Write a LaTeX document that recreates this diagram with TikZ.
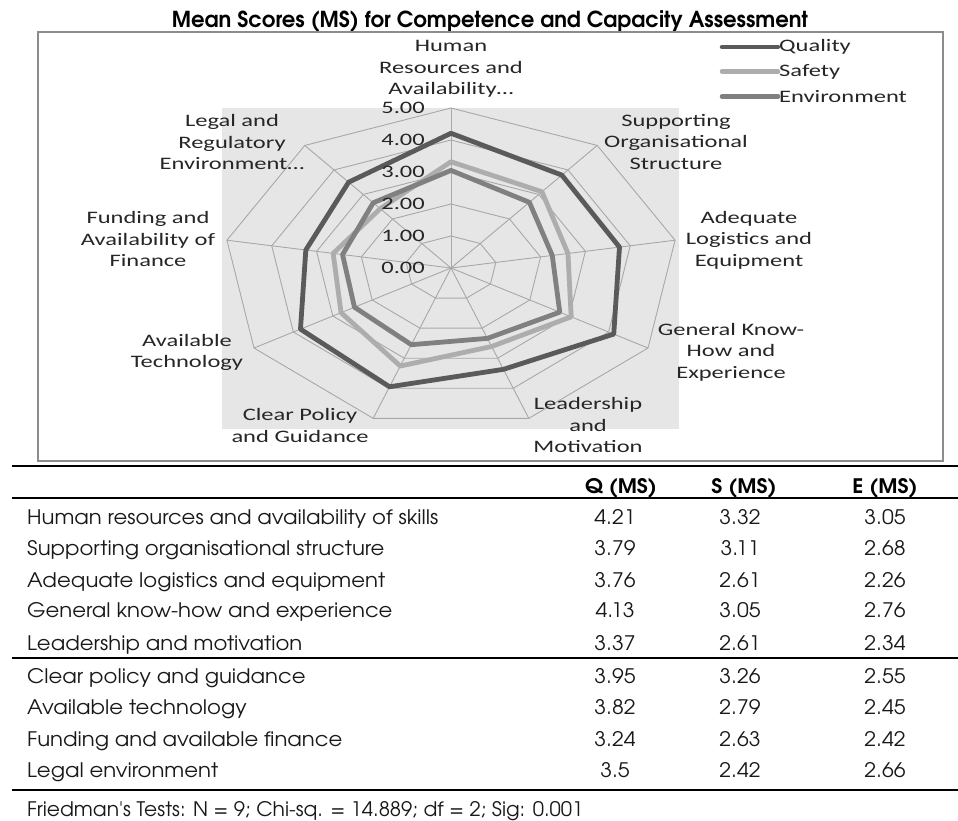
\documentclass[tikz,border=0pt]{standalone}
\usepackage{fontspec}
\usepackage{graphicx}
\newfontfamily\chartfont[FakeStretch=1.4]{Carlito}
\newfontfamily\gothic{texgyreadventor}[Extension=.otf,UprightFont=*-regular,BoldFont=*-bold]
\newfontfamily\tabfont{texgyreadventor}[Extension=.otf,UprightFont=*-regular,BoldFont=*-bold,FakeStretch=1.06]
\definecolor{qcol}{HTML}{5A5A5A}
\definecolor{scol}{HTML}{ADADAD}
\definecolor{ecol}{HTML}{808080}
\definecolor{gridcol}{HTML}{A8A8A8}
\definecolor{plotbg}{HTML}{E6E6E6}
\definecolor{boxcol}{HTML}{8C8C8C}
\newcommand\fitw[2]{\resizebox{#1}{\height}{#2}}
\newcommand\rp[2]{({451+45.5*(#2)*cos(90-40*(#1))},{268-32*(#2)*sin(90-40*(#1))})}
\tikzset{
  lab/.style={font=\chartfont\fontsize{17.5}{21.5}\selectfont, align=center, inner sep=0pt, text=black!85},
  vallab/.style={font=\chartfont\fontsize{17.5}{21.5}\selectfont, inner sep=0pt, anchor=east, text=black!85},
  gridline/.style={draw=gridcol, line width=0.9pt},
  series/.style={line width=4.8pt, line join=round},
  legline/.style={line width=4.5pt, line cap=round},
  tabtext/.style={font=\tabfont\fontsize{20}{24}\selectfont, inner sep=0pt, text=black!90},
  tabhead/.style={font=\tabfont\bfseries\fontsize{20}{24}\selectfont, inner sep=0pt, anchor=base},
  rule/.style={line width=2.2pt, draw=black},
}
\begin{document}
\begin{tikzpicture}[x=1pt,y=-1pt]
\useasboundingbox (0,0) rectangle (958,820);
\fill[white] (0,0) rectangle (958,820);
% title
\node[anchor=base, inner sep=0pt, font=\gothic\bfseries\fontsize{22}{26}\selectfont] (title) at (490,27) {\fitw{636pt}{Mean Scores (MS) for Competence and Capacity Assessment}};
% chart frame
\draw[draw=boxcol, line width=1.6pt] (38,32) rectangle (943,461);
\fill[plotbg] (222,108) rectangle (679,429);
% grid
\coordinate (c) at (451,268);
\foreach \r in {1,...,5}
  \draw[gridline] \rp{0}{\r} -- \rp{1}{\r} -- \rp{2}{\r} -- \rp{3}{\r} -- \rp{4}{\r} -- \rp{5}{\r} -- \rp{6}{\r} -- \rp{7}{\r} -- \rp{8}{\r} -- cycle;
\foreach \i in {0,...,8}
  \draw[gridline] (c) -- \rp{\i}{5};
% series
\draw[series, draw=qcol] \rp{0}{4.21} -- \rp{1}{3.79} -- \rp{2}{3.76} -- \rp{3}{4.13} -- \rp{4}{3.37} -- \rp{5}{3.95} -- \rp{6}{3.82} -- \rp{7}{3.24} -- \rp{8}{3.5} -- cycle;
\draw[series, draw=scol] \rp{0}{3.32} -- \rp{1}{3.11} -- \rp{2}{2.61} -- \rp{3}{3.05} -- \rp{4}{2.61} -- \rp{5}{3.26} -- \rp{6}{2.79} -- \rp{7}{2.63} -- \rp{8}{2.42} -- cycle;
\draw[series, draw=ecol] \rp{0}{3.05} -- \rp{1}{2.68} -- \rp{2}{2.26} -- \rp{3}{2.76} -- \rp{4}{2.34} -- \rp{5}{2.55} -- \rp{6}{2.45} -- \rp{7}{2.42} -- \rp{8}{2.66} -- cycle;
% value labels
\foreach \k in {0,...,5}
  \node[vallab] (v\k) at (425,{268-32*\k}) {\k.00};
% category labels
\node[lab] (l0) at (451,69) {Human\\Resources and\\Availability…};
\node[lab] (l1) at (676,142) {Supporting\\Organisational\\Structure};
\node[lab] (l2) at (749,240) {Adequate\\Logistics and\\Equipment};
\node[lab] (l3) at (731,352) {General Know-\\How and\\Experience};
\node[lab] (l4) at (588,425) {Leadership\\and\\Motivation};
\node[lab] (l5) at (300,425.5) {Clear Policy\\and Guidance};
\node[lab] (l6) at (187,352.5) {Available\\Technology};
\node[lab] (l7) at (148,239) {Funding and\\Availability of\\Finance};
\node[lab] (l8) at (232,142) {Legal and\\Regulatory\\Environment…};
% legend
\coordinate (q1) at (722,47); \coordinate (q2) at (778,47);
\coordinate (s1) at (722,71.5); \coordinate (s2) at (778,71.5);
\coordinate (e1) at (722,96.5); \coordinate (e2) at (778,96.5);
\draw[legline, draw=qcol] (q1) -- (q2);
\draw[legline, draw=scol] (s1) -- (s2);
\draw[legline, draw=ecol] (e1) -- (e2);
\node[lab, anchor=west] (lq) at (779,47) {Quality};
\node[lab, anchor=west] (ls) at (779,71.5) {Safety};
\node[lab, anchor=west] (le) at (779,96.5) {Environment};
% table rules
\coordinate (t1a) at (12,466); \coordinate (t1b) at (958,466);
\coordinate (t2a) at (12,498); \coordinate (t2b) at (958,498);
\coordinate (t3a) at (12,658); \coordinate (t3b) at (958,658);
\coordinate (t4a) at (12,790); \coordinate (t4b) at (958,790);
\draw[rule] (t1a) -- (t1b);
\draw[rule] (t2a) -- (t2b);
\draw[rule, line width=1.6pt] (t3a) -- (t3b);
\draw[rule] (t4a) -- (t4b);
% header
\node[tabhead] (hq) at (621,493) {Q (MS)};
\node[tabhead] (hs) at (744,493) {S (MS)};
\node[tabhead] (he) at (885,493) {E (MS)};
% rows
\foreach \y/\name/\q/\s/\e [count=\n] in {
  524/Human resources and availability of skills/4.21/3.32/3.05,
  555/Supporting organisational structure/3.79/3.11/2.68,
  587/Adequate logistics and equipment/3.76/2.61/2.26,
  617/General know-how and experience/4.13/3.05/2.76,
  650/Leadership and motivation/3.37/2.61/2.34,
  683/Clear policy and guidance/3.95/3.26/2.55,
  714/Available technology/3.82/2.79/2.45,
  746/Funding and available finance/3.24/2.63/2.42,
  777/Legal environment/3.5/2.42/2.66}{
  \node[tabtext, anchor=base west] (row\n) at (27,\y) {\name};
  \node[tabtext, anchor=base] (q\n) at (615,\y) {\q};
  \node[tabtext, anchor=base] (s\n) at (740,\y) {\s};
  \node[tabtext, anchor=base] (e\n) at (885,\y) {\e};
}
\node[tabtext, anchor=base west] (note) at (27,816) {\fitw{556pt}{Friedman's Tests: N = 9; Chi-sq. = 14.889; df = 2; Sig: 0.001}};
\end{tikzpicture}
\end{document}
